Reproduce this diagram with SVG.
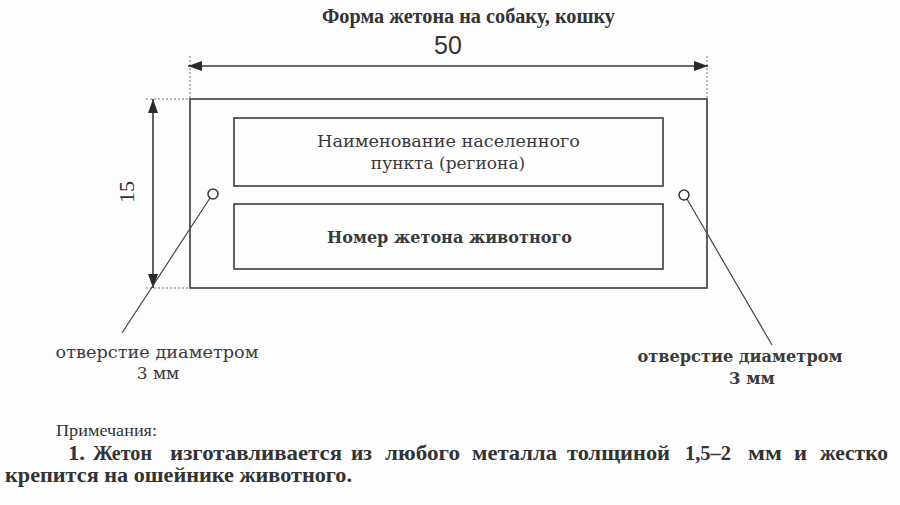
<svg xmlns="http://www.w3.org/2000/svg" width="900" height="505" viewBox="0 0 900 505">
<style>
.bg{fill:#fdfdfe}
.ln{fill:none;stroke:#3a3a3a;stroke-width:1.6}
.thin{fill:none;stroke:#444;stroke-width:1.2}
.dash{fill:none;stroke:#777;stroke-width:1;stroke-dasharray:2 2}
.ser{font-family:"Liberation Serif","Times New Roman",serif;fill:#333}
.wide{font-family:"DejaVu Serif","Liberation Serif",serif;fill:#3a3a3a}
.note{font-family:"Liberation Serif","Times New Roman",serif;fill:#333;font-size:21.5px;font-weight:bold}
</style>
<defs>
<marker id="ah" viewBox="0 0 14 10" refX="14" refY="5" markerWidth="14" markerHeight="10" markerUnits="userSpaceOnUse" orient="auto-start-reverse">
<path d="M0,0 L14,5 L0,10 Z" fill="#2a2a2a"/>
</marker>
</defs>
<rect class="bg" x="0" y="0" width="900" height="505"/>
<text class="ser" x="322" y="23" font-size="20" font-weight="bold" textLength="293" lengthAdjust="spacingAndGlyphs">Форма жетона на собаку, кошку</text>
<g id="dimensions">
<line class="dash" x1="190" y1="56" x2="190" y2="99"/>
<line class="dash" x1="707" y1="56" x2="707" y2="99"/>
<line class="dash" x1="146" y1="99" x2="190" y2="99"/>
<line class="dash" x1="146" y1="288" x2="190" y2="288"/>
<line class="ln" x1="188" y1="66" x2="708" y2="66" stroke-width="2" marker-start="url(#ah)" marker-end="url(#ah)"/>
<text x="448" y="54" font-family="Liberation Sans, Arial, sans-serif" font-size="25" fill="#333" text-anchor="middle">50</text>
<line class="ln" x1="153" y1="99" x2="153" y2="288" stroke-width="2" marker-start="url(#ah)" marker-end="url(#ah)"/>
<text class="ser" x="0" y="0" font-size="22" text-anchor="middle" transform="translate(134,192) rotate(-90)">15</text>
</g>
<g id="tag">
<rect class="ln" x="190" y="99" width="517" height="189"/>
</g>
<g id="field-name">
<rect class="ln" x="234" y="118" width="429" height="68"/>
<text class="wide" x="448.5" y="147" font-size="17" text-anchor="middle" textLength="263" lengthAdjust="spacingAndGlyphs">Наименование населенного</text>
<text class="wide" x="448" y="169" font-size="17" text-anchor="middle">пункта (региона)</text>
</g>
<g id="field-number">
<rect class="ln" x="234" y="204" width="429" height="65"/>
<text class="wide" x="449.5" y="243" font-size="16" font-weight="bold" text-anchor="middle" textLength="245" lengthAdjust="spacingAndGlyphs">Номер жетона животного</text>
</g>
<g id="hole-left">
<circle class="ln" cx="213" cy="194" r="5" fill="#fdfdfe"/>
</g>
<g id="hole-right">
<circle class="ln" cx="684" cy="195" r="5" fill="#fdfdfe"/>
</g>
<g id="connectors">
<line class="thin" x1="210" y1="198" x2="122" y2="333"/>
<line class="thin" x1="687" y1="199" x2="772" y2="345"/>
</g>
<g id="label-left">
<text class="wide" x="157" y="358" font-size="17" text-anchor="middle" textLength="203" lengthAdjust="spacingAndGlyphs">отверстие диаметром</text>
<text class="wide" x="158" y="379" font-size="17" text-anchor="middle">3 мм</text>
</g>
<g id="label-right">
<text class="wide" x="740" y="362" font-size="16.5" font-weight="bold" text-anchor="middle" textLength="205" lengthAdjust="spacingAndGlyphs">отверстие диаметром</text>
<text class="wide" x="752" y="384" font-size="16.5" font-weight="bold" text-anchor="middle">3 мм</text>
</g>
<g id="notes">
<text class="ser" x="56" y="436" font-size="17" fill="#555" textLength="101" lengthAdjust="spacingAndGlyphs">Примечания:</text>
<text class="note" x="68" y="460" textLength="17" lengthAdjust="spacingAndGlyphs">1.</text>
<text class="note" x="93" y="460" textLength="59" lengthAdjust="spacingAndGlyphs">Жетон</text>
<text class="note" x="170" y="460" textLength="172" lengthAdjust="spacingAndGlyphs">изготавливается</text>
<text class="note" x="351" y="460" textLength="21" lengthAdjust="spacingAndGlyphs">из</text>
<text class="note" x="385" y="460" textLength="75" lengthAdjust="spacingAndGlyphs">любого</text>
<text class="note" x="472" y="460" textLength="85" lengthAdjust="spacingAndGlyphs">металла</text>
<text class="note" x="567" y="460" textLength="103" lengthAdjust="spacingAndGlyphs">толщиной</text>
<text class="note" x="685" y="460" textLength="46" lengthAdjust="spacingAndGlyphs">1,5–2</text>
<text class="note" x="748" y="460" textLength="34" lengthAdjust="spacingAndGlyphs">мм</text>
<text class="note" x="794" y="460" textLength="13" lengthAdjust="spacingAndGlyphs">и</text>
<text class="note" x="820" y="460" textLength="68" lengthAdjust="spacingAndGlyphs">жестко</text>
<text class="note" x="5" y="482" textLength="347" lengthAdjust="spacingAndGlyphs">крепится на ошейнике животного.</text>
</g>
</svg>
